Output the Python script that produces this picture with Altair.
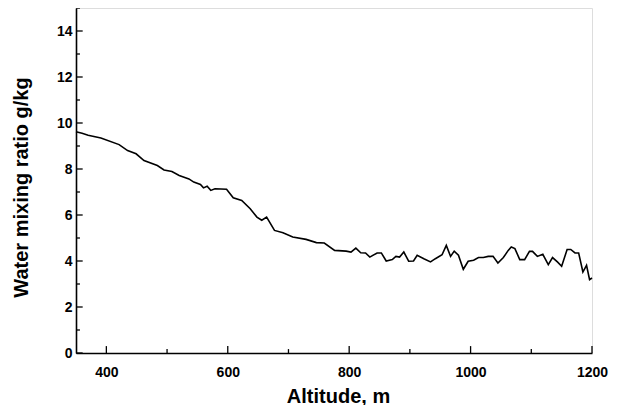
import altair as alt
import pandas as pd

# Curve: altitude (m) vs water mixing ratio (g/kg)
altitude = [350, 360, 370, 391, 421, 435, 449, 462, 484, 495, 508, 520, 536, 544, 555, 560, 566, 572, 579,
            598, 609, 623, 637, 648, 656, 664, 677, 691, 707, 729, 746, 759, 776, 795, 803, 811, 819, 827,
            834, 846, 853, 861, 871, 877, 883, 890, 898, 906, 912, 923, 934, 942, 953, 960, 967, 973, 980,
            988, 996, 1005, 1013, 1021, 1029, 1037, 1045, 1054, 1062, 1067, 1073, 1081, 1089, 1097, 1102,
            1110, 1119, 1128, 1135, 1143, 1150, 1159, 1165, 1172, 1178, 1185, 1191, 1196, 1200]
mixing = [9.62, 9.55, 9.47, 9.35, 9.06, 8.8, 8.66, 8.37, 8.15, 7.96, 7.89, 7.72, 7.57, 7.43, 7.33, 7.18, 7.25,
          7.07, 7.14, 7.12, 6.75, 6.63, 6.27, 5.91, 5.77, 5.91, 5.33, 5.23, 5.04, 4.94, 4.8, 4.78, 4.46, 4.43,
          4.39, 4.56, 4.36, 4.35, 4.17, 4.35, 4.35, 4.0, 4.06, 4.2, 4.17, 4.39, 3.99, 4.0, 4.25, 4.1, 3.96,
          4.1, 4.27, 4.68, 4.2, 4.43, 4.25, 3.64, 3.99, 4.03, 4.15, 4.15, 4.2, 4.2, 3.91, 4.15, 4.46, 4.61,
          4.54, 4.06, 4.06, 4.42, 4.42, 4.2, 4.29, 3.84, 4.15, 3.96, 3.77, 4.5, 4.5, 4.35, 4.35, 3.52, 3.81,
          3.19, 3.26]

x_ticks_major = [400, 600, 800, 1000, 1200]
x_ticks_minor = [500, 700, 900, 1100]
y_ticks_major = [0, 2, 4, 6, 8, 10, 12, 14]
y_ticks_minor = [1, 3, 5, 7, 9, 11, 13, 15]

X_DOMAIN = [350, 1200]
Y_DOMAIN = [0, 15]

df = pd.DataFrame({"alt": altitude, "w": mixing})

xt = pd.DataFrame({
    "x": x_ticks_major + x_ticks_minor,
    "y0": [0] * (len(x_ticks_major) + len(x_ticks_minor)),
    "y1": [0.3] * len(x_ticks_major) + [0.17] * len(x_ticks_minor),
})
yt = pd.DataFrame({
    "y": y_ticks_major + y_ticks_minor,
    "x0": [350] * (len(y_ticks_major) + len(y_ticks_minor)),
    "x1": [361] * len(y_ticks_major) + [356.5] * len(y_ticks_minor),
})

xscale = alt.Scale(domain=X_DOMAIN, nice=False, zero=False)
yscale = alt.Scale(domain=Y_DOMAIN, nice=False)

FONT = "Liberation Sans"

line = alt.Chart(df).mark_line(color="black", strokeWidth=1.6).encode(
    x=alt.X("alt:Q", scale=xscale,
            axis=alt.Axis(title="Altitude, m", values=x_ticks_major, format="d", ticks=False, grid=False,
                          domainColor="black", domainWidth=1.6, labelPadding=12,
                          labelFont=FONT, labelFontSize=14, labelFontWeight="bold", labelColor="black",
                          labelFlush=False,
                          titleFont=FONT, titleFontSize=20, titleFontWeight="bold", titleColor="black",
                          titleX=262, titleY=43, titleBaseline="middle", titleAlign="center")),
    y=alt.Y("w:Q", scale=yscale,
            axis=alt.Axis(title="Water mixing ratio g/kg", values=y_ticks_major, ticks=False, grid=False,
                          domainColor="black", domainWidth=1.6, labelPadding=4,
                          labelFont=FONT, labelFontSize=14, labelFontWeight="bold", labelColor="black",
                          labelFlush=False,
                          titleFont=FONT, titleFontSize=20, titleFontWeight="bold", titleColor="black",
                          titleX=-55, titleY=179, titleAngle=-90, titleBaseline="middle",
                          titleAlign="center")),
)

xticks = alt.Chart(xt).mark_rule(color="black", strokeWidth=1.3).encode(
    x=alt.X("x:Q", scale=xscale), y=alt.Y("y0:Q", scale=yscale), y2="y1:Q"
)
yticks = alt.Chart(yt).mark_rule(color="black", strokeWidth=1.3).encode(
    y=alt.Y("y:Q", scale=yscale), x=alt.X("x0:Q", scale=xscale), x2="x1:Q"
)

chart = alt.layer(line, xticks, yticks).properties(
    width=516, height=345,
    autosize=alt.AutoSizeParams(type="none"),
    padding={"left": 68, "top": 0, "right": 18, "bottom": 52},
).configure_view(stroke=None).configure(background="white")

chart.save("out.html", embed_options={"renderer": "svg", "actions": False})
